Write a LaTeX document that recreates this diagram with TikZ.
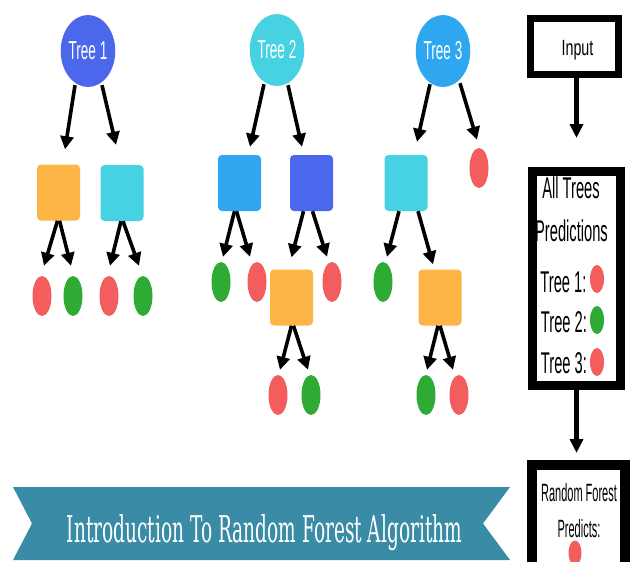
\documentclass[tikz,border=0pt]{standalone}
\usepackage{fontspec}
\setmainfont{Liberation Sans}
\newfontfamily\slabfont{DejaVu Serif}
\usetikzlibrary{arrows.meta,shapes.geometric}
\definecolor{cBlue}{HTML}{4B68EC}
\definecolor{cCyan}{HTML}{46D2E2}
\definecolor{cSky}{HTML}{2FA6F0}
\definecolor{cOrange}{HTML}{FDB545}
\definecolor{cRed}{HTML}{F45D5E}
\definecolor{cGreen}{HTML}{2FAA35}
\definecolor{cTeal}{HTML}{3A8BA6}
\newcommand\cond[3]{\scalebox{#1}[1]{\fontsize{#2}{#2}\selectfont #3}}
\tikzset{
  rootnode/.style={ellipse, fill=#1, minimum width=50pt, minimum height=72pt, inner sep=0pt, text=white},
  boxnode/.style={rectangle, rounded corners=4pt, fill=#1, minimum width=43pt, minimum height=56pt, inner sep=0pt},
  leafnode/.style={ellipse, fill=#1, minimum width=19pt, minimum height=40pt, inner sep=0pt},
  dotnode/.style={ellipse, fill=#1, minimum width=14pt, minimum height=28pt, inner sep=0pt},
  arr/.style={line width=3.6pt, -{Triangle[length=13pt,width=13pt]}},
  bigarr/.style={line width=4.5pt, -{Triangle[length=14pt,width=13pt]}},
  frame/.style={draw=black, fill=white, rectangle, inner sep=0pt},
  txt/.style={inner sep=0pt, anchor=base},
}
\begin{document}
\begin{tikzpicture}[x=1pt,y=-1pt]
\useasboundingbox (0,0) rectangle (630,562);
\clip (0,0) rectangle (630,562);
\fill[white] (0,0) rectangle (630,562);

% ---------- Tree 1 ----------
\node[rootnode=cBlue] (t1) at (88,51) {\cond{0.52}{26}{Tree 1}};
\node[boxnode=cOrange] (t1a) at (58.5,192.5) {};
\node[boxnode=cCyan] (t1b) at (122,193) {};
\node[leafnode=cRed] (l11) at (42,296) {};
\node[leafnode=cGreen] (l12) at (73,296) {};
\node[leafnode=cRed] (l13) at (109,296) {};
\node[leafnode=cGreen] (l14) at (143,296) {};
\draw[arr] ([shift={(-13,-2)}]t1.south) -- ([shift={(6.5,-15)}]t1a.north);
\draw[arr] ([shift={(14,-2)}]t1.south) -- ([shift={(-6,-20)}]t1b.north);
\draw[arr] ([shift={(-1,0)}]t1a.south) -- ([shift={(2,-10)}]l11.north);
\draw[arr] ([shift={(1,0)}]t1a.south) -- ([shift={(-2,-10)}]l12.north);
\draw[arr] ([shift={(-1,0)}]t1b.south) -- ([shift={(1,-10)}]l13.north);
\draw[arr] ([shift={(1,0)}]t1b.south) -- ([shift={(-4,-10)}]l14.north);

% ---------- Tree 2 ----------
\node[rootnode=cCyan] (t2) at (277,50) {\cond{0.52}{26}{Tree 2}};
\node[boxnode=cSky] (t2a) at (239.5,183) {};
\node[boxnode=cBlue] (t2b) at (311.5,183) {};
\node[leafnode=cGreen] (l21) at (221,282) {};
\node[leafnode=cRed] (l22) at (257,282) {};
\node[leafnode=cRed] (l23) at (332,282) {};
\node[boxnode=cOrange] (t2c) at (291.5,297.5) {};
\node[leafnode=cRed] (l24) at (278,395) {};
\node[leafnode=cGreen] (l25) at (311,395) {};
\draw[arr] ([shift={(-13,-2)}]t2.south) -- ([shift={(10.5,-8)}]t2a.north);
\draw[arr] ([shift={(11,-1)}]t2.south) -- ([shift={(-9.5,-8)}]t2b.north);
\draw[arr] ([shift={(-5,0)}]t2a.south) -- ([shift={(2,-5)}]l21.north);
\draw[arr] ([shift={(-3,0)}]t2a.south) -- ([shift={(-7,-5)}]l22.north);
\draw[arr] ([shift={(-8,0)}]t2b.south) -- ([shift={(0,-12)}]t2c.north);
\draw[arr] ([shift={(1,0)}]t2b.south) -- ([shift={(-5,-5)}]l23.north);
\draw[arr] ([shift={(0,0)}]t2c.south) -- ([shift={(2,-5)}]l24.north);
\draw[arr] ([shift={(2,0)}]t2c.south) -- ([shift={(-3,-5)}]l25.north);

% ---------- Tree 3 ----------
\node[rootnode=cSky] (t3) at (443,51) {\cond{0.52}{26}{Tree 3}};
\node[leafnode=cRed] (l31) at (479,168) {};
\node[boxnode=cCyan] (t3a) at (406,183) {};
\node[leafnode=cGreen] (l32) at (383,282) {};
\node[boxnode=cOrange] (t3b) at (440,297.5) {};
\node[leafnode=cGreen] (l33) at (426,395) {};
\node[leafnode=cRed] (l34) at (459,395) {};
\draw[arr] ([shift={(-13,-3)}]t3.south) -- ([shift={(11,-13)}]t3a.north);
\draw[arr] ([shift={(17,-4)}]t3.south) -- ([shift={(-2,-8)}]l31.north);
\draw[arr] ([shift={(-7,0)}]t3a.south) -- ([shift={(4,-5)}]l32.north);
\draw[arr] ([shift={(12,0)}]t3a.south) -- ([shift={(-7,-5)}]t3b.north);
\draw[arr] ([shift={(-2,0)}]t3b.south) -- ([shift={(1,-5)}]l33.north);
\draw[arr] ([shift={(0,0)}]t3b.south) -- ([shift={(-6,-5)}]l34.north);

% ---------- Right column ----------
\node[frame, line width=7pt, minimum width=88pt, minimum height=56pt] (in) at (574.5,46.5) {};
\node[txt] (intxt) at (577.5,56) {\cond{0.65}{22}{Input}};
\node[frame, line width=9pt, minimum width=88pt, minimum height=214pt] (preds) at (576.5,278.5) {};
\node[txt] (p1) at (571,198) {\cond{0.49}{30}{All Trees}};
\node[txt] (p2) at (571.5,241) {\cond{0.49}{30}{Predictions}};
\node[txt] (r1) at (563.5,292) {\cond{0.49}{30}{Tree 1:}};
\node[txt] (r2) at (564,332) {\cond{0.49}{30}{Tree 2:}};
\node[txt] (r3) at (564,373) {\cond{0.49}{30}{Tree 3:}};
\node[dotnode=cRed] (d1) at (597,279) {};
\node[dotnode=cGreen] (d2) at (597,320) {};
\node[dotnode=cRed] (d3) at (597,362) {};
\node[frame, line width=10pt, minimum width=93pt, minimum height=200pt] (rf) at (578.5,565) {};
\node[txt] (rf1) at (579,501) {\cond{0.44}{25}{Random Forest}};
\node[txt] (rf2) at (579,537) {\cond{0.44}{25}{Predicts:}};
\node[ellipse, fill=cRed, minimum width=13pt, minimum height=25pt, inner sep=0pt] (d4) at (575,553) {};
\draw[bigarr] ([shift={(2,0)}]in.south) -- ([shift={(0,-29)}]preds.north);
\draw[bigarr] (preds.south) -- ([shift={(-2,-7)}]rf.north);

% ---------- Banner ----------
\fill[cTeal] (13,487) -- (510,487) -- (483,523.5) -- (510,560) -- (13,560) -- (32,523.5) -- cycle;
\node[txt, text=white] (title) at (264.5,542) {\resizebox{395pt}{28pt}{\slabfont Introduction To Random Forest Algorithm}};
\end{tikzpicture}
\end{document}
